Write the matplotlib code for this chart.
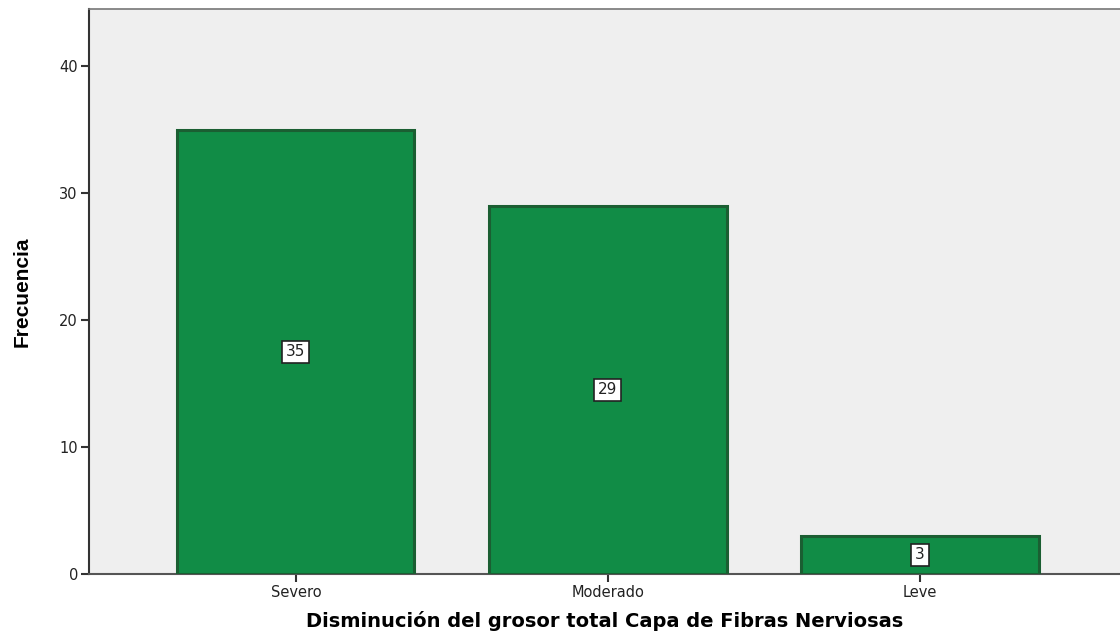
import numpy as np
import matplotlib.pyplot as plt

categorias = ['Severo', 'Moderado', 'Leve']
frecuencias = [35, 29, 3]
yticks = [0, 10, 20, 30, 40]

plt.rcParams['font.family'] = 'DejaVu Sans'

fig = plt.figure(figsize=(11.2, 6.35), dpi=100)
ax = fig.add_axes([0.0795, 0.096, 0.9205, 0.8898])
ax.set_facecolor('#efefef')

x = np.arange(len(categorias))
bars = ax.bar(x, frecuencias, width=0.76, color='#118c46',
              edgecolor='#1b5e32', linewidth=2.2, zorder=3)

# etiquetas de valor en el centro de cada barra
for xi, v in zip(x, frecuencias):
    ax.text(xi, v / 2, str(v), ha='center', va='center', fontsize=11,
            color='#222222', zorder=4,
            bbox=dict(boxstyle='square,pad=0.25', facecolor='white',
                      edgecolor='#222222', linewidth=1.2))

ax.set_xlim(-0.663, 2.641)
ax.set_ylim(0, 44.5)
ax.set_xticks(x)
ax.set_xticklabels(categorias, fontsize=10.5, color='#222222')
ax.set_yticks(yticks)
ax.set_yticklabels([str(t) for t in yticks], fontsize=10.5, color='#222222')
ax.tick_params(axis='both', length=6, width=1.5, color='#333333', pad=2)

ax.spines['right'].set_visible(False)
ax.spines['top'].set_color('#777777')
ax.spines['top'].set_linewidth(1.2)
ax.spines['left'].set_color('#333333')
ax.spines['left'].set_linewidth(1.5)
ax.spines['bottom'].set_color('#555555')
ax.spines['bottom'].set_linewidth(1.5)

ax.set_xlabel('Disminución del grosor total Capa de Fibras Nerviosas',
              fontsize=14, fontweight='bold', labelpad=8)
ax.set_ylabel('Frecuencia', fontsize=15, fontweight='bold',
              family=['Liberation Sans', 'DejaVu Sans'], labelpad=20)

fig.savefig('out.png', dpi=100)
